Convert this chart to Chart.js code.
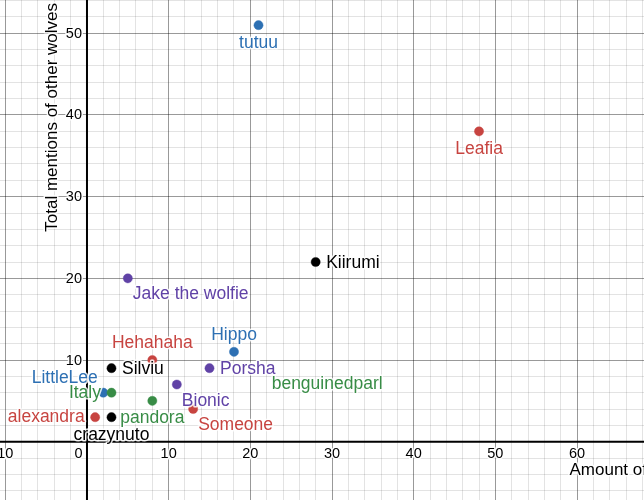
<!DOCTYPE html>
<html>
<head>
<meta charset="utf-8">
<script src="https://cdn.jsdelivr.net/npm/chart.js@4"></script>
<style>
  html, body { margin: 0; padding: 0; background: #fff; overflow: hidden; }
  #wrap { width: 644px; height: 500px; }
</style>
</head>
<body>
<div id="wrap"><canvas id="c" width="644" height="500"></canvas></div>
<script>
// ---- data ----
const names = ["tutuu", "Leafia", "Kiirumi", "Jake the wolfie", "Hippo", "Hehahaha", "Silviu", "Porsha",
               "benguinedparl", "Bionic", "LittleLee", "Italy", "pandora", "Someone", "alexandra", "crazynuto"];
const wolvesPosts = [21, 48, 28, 5, 18, 8, 3, 15, 22, 11, 2, 3, 8, 13, 1, 3];
const otherMentions = [51, 38, 22, 20, 11, 10, 9, 9, 9, 7, 6, 6, 5, 4, 3, 3];
const xTickValues = [-10, 0, 10, 20, 30, 40, 50, 60];
const yTickValues = [10, 20, 30, 40, 50];
const xTitle = "Amount of";
const yTitle = "Total mentions of other wolves";

// ---- styles ----
const C = { red: "#c74440", blue: "#2d70b3", green: "#388c46", purple: "#6042a6", black: "#000000" };
const pointColors = [C.blue, C.red, C.black, C.purple, C.blue, C.red, C.black, C.purple,
                     C.green, C.purple, C.blue, C.green, C.green, C.red, C.red, C.black];
const hiddenPoint = { "benguinedparl": true };
const labelPlacement = {
  "tutuu": "below", "Leafia": "below", "Kiirumi": "right", "Jake the wolfie": "belowright",
  "Hippo": "above", "Hehahaha": "above", "Silviu": "right", "Porsha": "right",
  "benguinedparl": "belowright", "Bionic": "belowright", "LittleLee": "aboveleft", "Italy": "left",
  "pandora": "below", "Someone": "belowright", "alexandra": "left", "crazynuto": "below"
};
const FONT = '"Liberation Sans", Arial, sans-serif';

const pts = wolvesPosts.map((x, i) => ({ x: x, y: otherMentions[i] }));

const desmosPlugin = {
  id: 'desmos',
  beforeDatasetsDraw(chart) {
    const ctx = chart.ctx, xs = chart.scales.x, ys = chart.scales.y;
    const x0 = xs.getPixelForValue(0), y0 = ys.getPixelForValue(0);
    ctx.save();
    ctx.strokeStyle = '#000';
    ctx.lineWidth = 2;
    ctx.beginPath();
    ctx.moveTo(x0, 0); ctx.lineTo(x0, chart.height);
    ctx.moveTo(0, y0); ctx.lineTo(chart.width, y0);
    ctx.stroke();

    ctx.font = '14.5px ' + FONT;
    ctx.fillStyle = '#000';
    ctx.lineJoin = 'round';
    ctx.textBaseline = 'middle';
    // x tick labels
    xTickValues.forEach(v => {
      const px = xs.getPixelForValue(v);
      const txt = v < 0 ? '\u2212' + Math.abs(v) : String(v);
      let drawX = px, align = 'center';
      if (v === 0) { drawX = x0 - 8.5; }
      else if (v < 0) { drawX = px + ctx.measureText(String(Math.abs(v))).width / 2; align = 'right'; }
      ctx.textAlign = align;
      ctx.strokeStyle = 'rgba(255,255,255,0.9)'; ctx.lineWidth = 3;
      ctx.strokeText(txt, drawX, y0 + 12.5);
      ctx.fillText(txt, drawX, y0 + 12.5);
    });
    // y tick labels
    ctx.textAlign = 'right';
    yTickValues.forEach(v => {
      const py = ys.getPixelForValue(v);
      ctx.strokeText(String(v), x0 - 5, py + 0.5);
      ctx.fillText(String(v), x0 - 5, py + 0.5);
    });
    // axis titles
    ctx.font = '17px ' + FONT;
    ctx.textBaseline = 'alphabetic';
    ctx.textAlign = 'left';
    ctx.strokeText(xTitle, 569.5, y0 + 33.5);
    ctx.fillText(xTitle, 569.5, y0 + 33.5);
    ctx.save();
    ctx.translate(56.5, 3);
    ctx.rotate(-Math.PI / 2);
    ctx.textAlign = 'right';
    ctx.font = '17px ' + FONT;
    ctx.strokeText(yTitle, 0, 0);
    ctx.fillText(yTitle, 0, 0);
    ctx.restore();
    ctx.restore();
  },
  afterDatasetsDraw(chart) {
    const ctx = chart.ctx;
    const meta = chart.getDatasetMeta(0);
    ctx.save();
    ctx.font = '17.5px ' + FONT;
    ctx.textBaseline = 'alphabetic';
    ctx.lineJoin = 'round';
    meta.data.forEach((el, i) => {
      const name = names[i];
      const p = labelPlacement[name];
      let dx = 0, dy = 0, align = 'center';
      if (p === 'below') { dy = 22.5; }
      else if (p === 'above') { dy = -12; }
      else if (p === 'right') { dx = 10.5; dy = 5.5; align = 'left'; }
      else if (p === 'left') { dx = -10.5; dy = 5; align = 'right'; }
      else if (p === 'belowright') { dx = 5; dy = 21; align = 'left'; }
      else if (p === 'aboveleft') { dx = -5.5; dy = -10; align = 'right'; }
      ctx.textAlign = align;
      ctx.strokeStyle = 'rgba(255,255,255,0.85)';
      ctx.lineWidth = 3;
      ctx.strokeText(name, el.x + dx, el.y + dy);
      ctx.fillStyle = pointColors[i];
      ctx.fillText(name, el.x + dx, el.y + dy);
    });
    ctx.restore();
  }
};

function gridColor(ctx) {
  const v = ctx.tick && ctx.tick.value;
  if (v === 0) return 'rgba(0,0,0,0)';
  if (Math.abs(v % 10) < 1e-9) return 'rgba(0,0,0,0.4)';
  return 'rgba(0,0,0,0.11)';
}

new Chart(document.getElementById('c'), {
  type: 'scatter',
  data: {
    datasets: [{
      data: pts,
      pointRadius: names.map(n => hiddenPoint[n] ? 0 : 4.6),
      pointHoverRadius: names.map(n => hiddenPoint[n] ? 0 : 4.6),
      pointBackgroundColor: pointColors,
      pointBorderColor: pointColors.map(c => c + 'cc'),
      pointBorderWidth: 0.5,
      clip: false
    }]
  },
  options: {
    responsive: false,
    animation: false,
    devicePixelRatio: 1,
    layout: { padding: 0, autoPadding: false },
    plugins: { legend: { display: false }, tooltip: { enabled: false } },
    events: [],
    scales: {
      x: {
        type: 'linear', min: -10.65, max: 68.2,
        ticks: { display: false, stepSize: 2, includeBounds: false },
        grid: { color: gridColor, lineWidth: 1, drawTicks: false },
        border: { display: false },
        afterFit: s => { s.height = 0; }
      },
      y: {
        type: 'linear', min: -7.14, max: 54.08,
        ticks: { display: false, stepSize: 2, includeBounds: false },
        grid: { color: gridColor, lineWidth: 1, drawTicks: false },
        border: { display: false },
        afterFit: s => { s.width = 0; }
      }
    }
  },
  plugins: [desmosPlugin]
});
</script>
</body>
</html>
